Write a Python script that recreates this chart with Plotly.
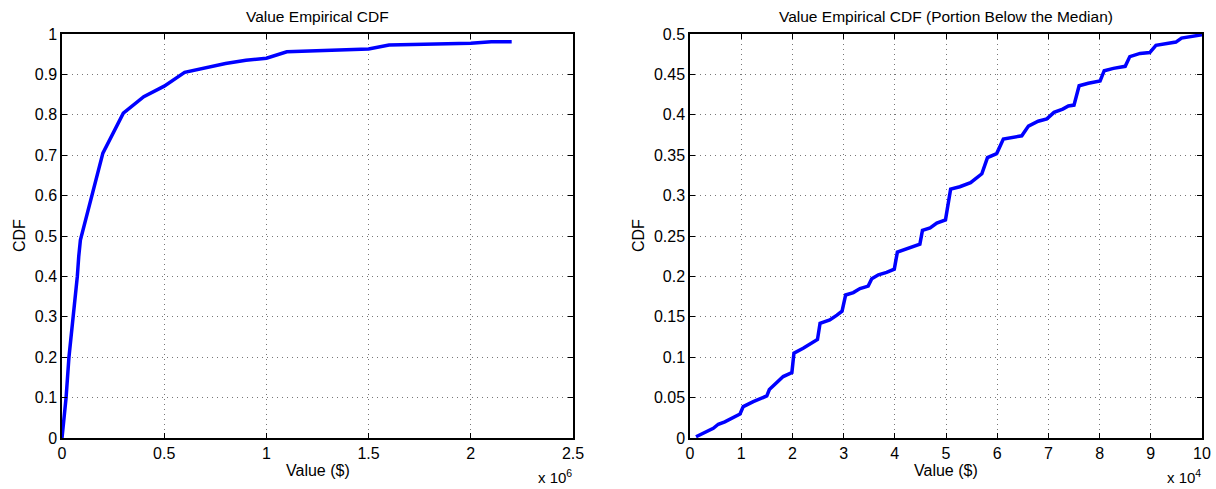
import plotly.graph_objects as go

# Left: full empirical CDF
full_value = [0, 0.01e6, 0.02e6, 0.034e6, 0.055e6, 0.065e6, 0.075e6, 0.082e6, 0.09e6,
              0.2e6, 0.3e6, 0.4e6, 0.5e6, 0.6e6, 0.7e6, 0.8e6, 0.9e6, 1.0e6, 1.1e6,
              1.5e6, 1.6e6, 2.0e6, 2.1e6, 2.2e6]
full_cdf = [0, 0.05, 0.10, 0.20, 0.30, 0.36, 0.40, 0.45, 0.49,
            0.705, 0.804, 0.845, 0.871, 0.905, 0.917, 0.927, 0.935, 0.940, 0.956,
            0.963, 0.973, 0.977, 0.981, 0.981]

# Right: portion below the median
low_value = [0.117e4, 0.455e4, 0.553e4, 0.68e4, 0.977e4, 1.04e4, 1.236e4, 1.5e4, 1.55e4,
             1.66e4, 1.82e4, 1.99e4, 2.03e4, 2.21e4, 2.38e4, 2.49e4, 2.54e4, 2.73e4,
             2.87e4, 2.97e4, 3.04e4, 3.19e4, 3.32e4, 3.48e4, 3.55e4, 3.68e4, 3.84e4,
             3.99e4, 4.05e4, 4.25e4, 4.49e4, 4.54e4, 4.69e4, 4.82e4, 4.99e4, 5.09e4,
             5.27e4, 5.48e4, 5.61e4, 5.70e4, 5.81e4, 5.99e4, 6.12e4, 6.28e4, 6.48e4,
             6.61e4, 6.80e4, 6.97e4, 7.11e4, 7.28e4, 7.39e4, 7.50e4, 7.60e4, 7.78e4,
             8.01e4, 8.09e4, 8.27e4, 8.50e4, 8.59e4, 8.79e4, 8.98e4, 9.10e4, 9.28e4,
             9.49e4, 9.60e4, 9.77e4, 10.0e4]
low_cdf = [0.0016, 0.012, 0.017, 0.020, 0.0297, 0.0388, 0.045, 0.052, 0.060,
           0.067, 0.076, 0.081, 0.105, 0.111, 0.117, 0.122, 0.142, 0.146,
           0.152, 0.157, 0.177, 0.180, 0.185, 0.188, 0.197, 0.202, 0.205,
           0.209, 0.230, 0.235, 0.240, 0.257, 0.260, 0.266, 0.270, 0.308,
           0.311, 0.316, 0.323, 0.327, 0.347, 0.352, 0.370, 0.372, 0.374,
           0.386, 0.392, 0.395, 0.403, 0.407, 0.411, 0.412, 0.436, 0.439,
           0.442, 0.4546, 0.4575, 0.460, 0.472, 0.476, 0.477, 0.486, 0.488,
           0.490, 0.495, 0.497, 0.499]

left_xticks = [0, 0.5e6, 1.0e6, 1.5e6, 2.0e6, 2.5e6]
left_xtext = ["0", "0.5", "1", "1.5", "2", "2.5"]
left_yticks = [0, 0.1, 0.2, 0.3, 0.4, 0.5, 0.6, 0.7, 0.8, 0.9, 1]
left_ytext = ["0", "0.1", "0.2", "0.3", "0.4", "0.5", "0.6", "0.7", "0.8", "0.9", "1"]
right_xticks = [0, 1e4, 2e4, 3e4, 4e4, 5e4, 6e4, 7e4, 8e4, 9e4, 10e4]
right_xtext = ["0", "1", "2", "3", "4", "5", "6", "7", "8", "9", "10"]
right_yticks = [0, 0.05, 0.1, 0.15, 0.2, 0.25, 0.3, 0.35, 0.4, 0.45, 0.5]
right_ytext = ["0", "0.05", "0.1", "0.15", "0.2", "0.25", "0.3", "0.35", "0.4", "0.45", "0.5"]

FONT = "Liberation Sans, Arial, Helvetica, sans-serif"
W, H = 1216, 489
xl = [62 / W, 573 / W]
xr = [690 / W, 1202 / W]
yd = [1 - 438 / H, 1 - 34 / H]

fig = go.Figure()
fig.add_trace(go.Scatter(x=full_value, y=full_cdf, mode="lines",
                         line=dict(color="#0000ff", width=3.5), xaxis="x", yaxis="y",
                         showlegend=False))
fig.add_trace(go.Scatter(x=low_value, y=low_cdf, mode="lines",
                         line=dict(color="#0000ff", width=3.5), xaxis="x2", yaxis="y2",
                         showlegend=False))

common = dict(showline=True, linecolor="black", linewidth=1.5, mirror="ticks",
              ticks="inside", ticklen=5, tickcolor="black", tickwidth=1,
              showgrid=True, gridcolor="#777777", griddash="1px,4px", gridwidth=1,
              zeroline=False, automargin=False,
              tickfont=dict(family=FONT, size=16, color="black"))

fig.update_layout(
    width=W, height=H, margin=dict(l=0, r=0, t=0, b=0, autoexpand=False),
    plot_bgcolor="white", paper_bgcolor="white",
    font=dict(family=FONT, size=16, color="black"),
    xaxis=dict(domain=xl, range=[0, 2.5e6], tickvals=left_xticks, ticktext=left_xtext,
               anchor="y", **common),
    yaxis=dict(domain=yd, range=[0, 1], tickvals=left_yticks, ticktext=left_ytext,
               anchor="x", **common),
    xaxis2=dict(domain=xr, range=[0, 10e4], tickvals=right_xticks, ticktext=right_xtext,
                anchor="y2", **common),
    yaxis2=dict(domain=yd, range=[0, 0.5], tickvals=right_yticks, ticktext=right_ytext,
                anchor="x2", **common),
)

def ann(text, x, y, size=16, angle=0, xanchor="center", yanchor="middle"):
    fig.add_annotation(text=text, x=x / W, y=1 - y / H, xref="paper", yref="paper",
                       showarrow=False, textangle=angle, xanchor=xanchor, yanchor=yanchor,
                       font=dict(family=FONT, size=size, color="black"))

ann("Value Empirical CDF", (62 + 573) / 2, 17, size=15.5)
ann("Value Empirical CDF (Portion Below the Median)", (690 + 1202) / 2, 17, size=15.5)
ann("Value ($)", (62 + 573) / 2, 470)
ann("Value ($)", (690 + 1202) / 2, 470)
ann("CDF", 19, 236, angle=-90)
ann("CDF", 638, 236, angle=-90)
ann("x 10<sup>6</sup>", 574, 476, size=15, xanchor="right")
ann("x 10<sup>4</sup>", 1203, 476, size=15, xanchor="right")

fig.write_html("out.html", config={"displayModeBar": False},
               post_script="document.body.style.margin='0';document.body.style.overflow='hidden';")
